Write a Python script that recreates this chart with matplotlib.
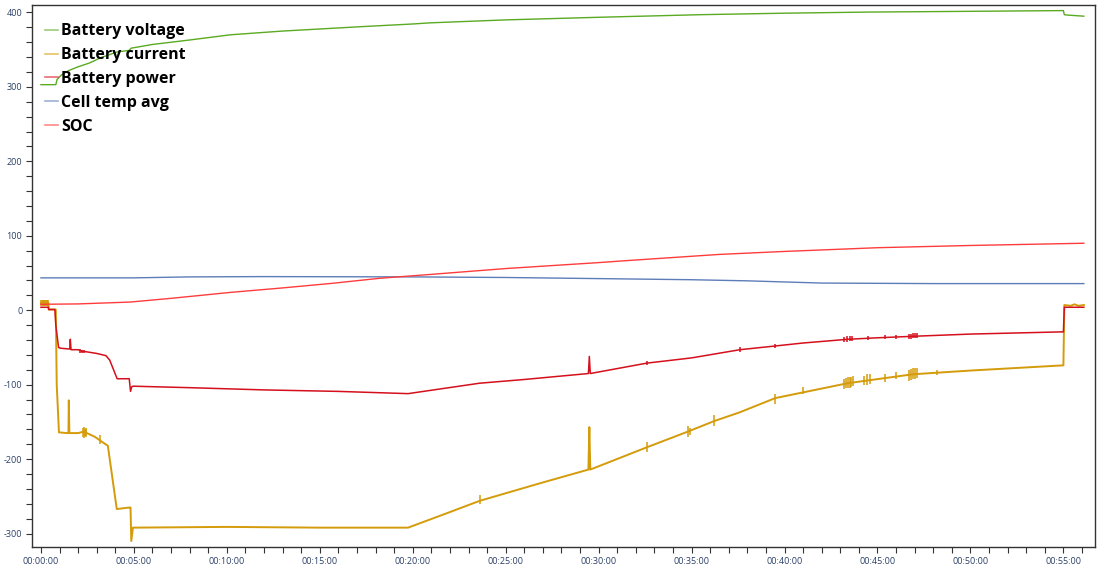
import matplotlib
matplotlib.use("Agg")
import matplotlib.pyplot as plt
from matplotlib.ticker import MultipleLocator, FuncFormatter
from matplotlib.lines import Line2D

# ---------------- data (time in minutes) ----------------
volt_t = [0, 0.8, 0.87, 1.1, 1.5, 2.0, 2.6, 3.2, 4.1, 4.75, 4.85, 6, 8, 10.2, 13, 17.3, 20, 20.9,
          25, 30, 35.5, 40, 44.5, 50, 55.0, 55.05, 55.2, 56.1]
volt_v = [303, 303, 310, 316, 322, 327, 332, 339, 347, 349, 352, 357, 363, 370, 375, 381, 384.5, 386,
          390, 393.5, 397, 399, 400.5, 401.5, 402.5, 397, 396.5, 395]

curr_t = [0, 0.4, 0.42, 0.8, 0.85, 0.97, 1.4, 1.48, 1.5, 1.53, 2.0, 2.3, 2.9, 3.3, 3.6, 4.08, 4.75,
          4.82, 4.86, 4.95, 10, 15, 19.75, 21.9, 23.6, 26.9, 29.45, 29.5, 29.55, 32.6, 34.8, 36.2,
          37.6, 39.5, 43.4, 46.9, 50, 55.0, 55.05, 55.4, 55.6, 55.8, 56.1]
curr_v = [10, 10, 1, 1, -100, -164, -165, -165, -121, -165, -165, -163, -170, -177, -182, -267, -265,
          -265, -310, -292, -291, -292, -292, -272, -256, -232, -214, -157, -214, -184, -163, -149,
          -137, -118, -98, -86, -81, -74, 7, 6, 8, 6, 7]

# current spikes / noise bursts: (time, low, high)
curr_sp_t = [0.02, 0.06, 0.1, 0.14, 0.18, 0.22, 0.26, 0.3, 0.34, 0.38,
             2.25, 2.3, 2.35, 2.4, 2.45, 3.2, 23.6, 32.6,
             34.8, 34.9, 36.2, 39.5, 41.0, 43.2, 43.3, 43.4, 43.5, 43.6, 43.7, 44.3, 44.45, 44.6,
             45.4, 46.0, 46.7, 46.8, 46.9, 47.0, 47.1, 48.2]
curr_sp_lo = [6, 6, 6, 6, 6, 6, 6, 6, 6, 6,
              -170, -171, -169, -170, -168, -180, -260, -190,
              -170, -168, -155, -126, -113, -106, -105, -104, -104, -103, -102, -101, -100, -99,
              -97, -92, -95, -94, -93, -92, -91, -87]
curr_sp_hi = [14, 14, 14, 14, 14, 14, 14, 14, 14, 14,
              -158, -157, -159, -158, -160, -168, -248, -177,
              -156, -158, -141, -113, -103, -92, -91, -90, -90, -89, -88, -88, -86, -85,
              -85, -83, -80, -79, -78, -78, -78, -80]

pow_t = [0, 0.4, 0.42, 0.75, 0.8, 0.95, 1.05, 1.5, 1.55, 1.58, 1.62, 2.0, 2.2, 2.5, 3.0, 3.5, 3.7,
         4.1, 4.75, 4.82, 4.88, 4.95, 8, 12, 16, 19.75, 23.6, 26, 29.45, 29.5, 29.55, 32.6, 35,
         37.6, 39.5, 41, 43.4, 45, 46.9, 50, 55.0, 55.05, 56.1]
pow_v = [4, 4, 1, 1, -20, -50, -51, -52, -52, -39, -53, -53, -55, -56, -58, -61, -67,
         -92, -92, -109, -103, -102, -104, -107, -109, -112, -98, -93, -85, -62, -85, -71, -64,
         -53, -48, -44, -39, -37, -35, -32, -29, 4, 4]

pow_sp_t = [2.1, 2.2, 2.3, 32.6, 37.6, 39.5, 43.2, 43.35, 43.5, 43.65, 44.5, 45.4, 46.0, 46.7,
            46.8, 46.9, 47.0, 47.1]
pow_sp_lo = [-57, -58, -58, -74, -56, -51, -42, -42, -41, -41, -40, -39, -38, -38, -38, -37, -37, -37]
pow_sp_hi = [-52, -53, -53, -68, -50, -45, -36, -35, -35, -35, -34, -33, -33, -32, -32, -31, -31, -31]

temp_t = [0, 5, 8, 12, 20, 25, 30, 35, 38, 42, 48, 56.1]
temp_v = [43.5, 43.5, 44.8, 45.2, 44.8, 44, 42.5, 41, 39.5, 36.5, 35.8, 35.8]

soc_t = [0, 2, 4.8, 7, 10.2, 13, 15.6, 18.25, 20.9, 25, 30, 31.7, 36.5, 40, 45, 50, 56.1]
soc_v = [8, 8.5, 11, 16, 24, 30, 36, 43, 48, 56, 64, 67, 75, 79, 84, 87, 90]

labels = ["Battery voltage", "Battery current", "Battery power", "Cell temp avg", "SOC"]
colors = ["#5aaa22", "#d49b0a", "#d4101c", "#5d7db8", "#ff3c3c"]

# ---------------- figure ----------------
fig = plt.figure(figsize=(11, 5.71), dpi=100)
ax = fig.add_axes([32 / 1100, 1 - 547 / 571, (1095 - 32) / 1100, (547 - 5) / 571])

ax.plot(volt_t, volt_v, color=colors[0], lw=1.0)
ax.plot(curr_t, curr_v, color=colors[1], lw=1.4)
ax.vlines(curr_sp_t, curr_sp_lo, curr_sp_hi, color=colors[1], lw=1.1)
ax.plot(pow_t, pow_v, color=colors[2], lw=1.1)
ax.vlines(pow_sp_t, pow_sp_lo, pow_sp_hi, color=colors[2], lw=1.1)
ax.plot(temp_t, temp_v, color=colors[3], lw=1.0)
ax.plot(soc_t, soc_v, color=colors[4], lw=1.0)

ax.set_xlim(-0.48, 56.7)
ax.set_ylim(-318, 410)

ax.xaxis.set_major_locator(MultipleLocator(5))
ax.xaxis.set_minor_locator(MultipleLocator(1))
ax.yaxis.set_major_locator(MultipleLocator(100))
ax.yaxis.set_minor_locator(MultipleLocator(20))
ax.xaxis.set_major_formatter(FuncFormatter(lambda v, p: "00:%02d:00" % int(round(v))))
ax.yaxis.set_major_formatter(FuncFormatter(lambda v, p: "%d" % int(round(v))))

tick_col = "#2a3f66"
for a in ("x", "y"):
    ax.tick_params(axis=a, which="both", direction="out", length=4, width=0.8,
                   color="#333333", labelcolor=tick_col, labelsize=6.5)
ax.tick_params(axis="x", pad=3)
ax.tick_params(axis="y", pad=3)
for lab in ax.get_xticklabels() + ax.get_yticklabels():
    lab.set_fontfamily("Open Sans")
for s in ax.spines.values():
    s.set_color("#333333")
    s.set_linewidth(1.0)

handles = [Line2D([0], [0], color=c, lw=1.2, alpha=0.6) for c in colors]
leg = ax.legend(handles, labels, loc="upper left", bbox_to_anchor=(0.012, 0.966),
                frameon=False, borderpad=0, borderaxespad=0, handlelength=0.8,
                handletextpad=0.22, labelspacing=0.49,
                prop={"family": "Open Sans", "weight": "bold", "size": 11.5})

fig.savefig("out.png", dpi=100)
